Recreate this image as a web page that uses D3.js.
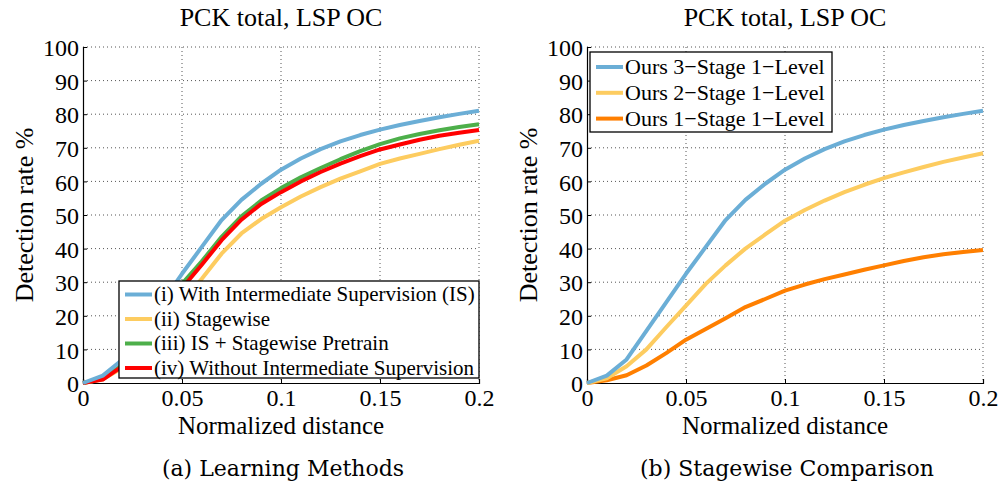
<!DOCTYPE html>
<html>
<head>
<meta charset="utf-8">
<script src="https://cdn.jsdelivr.net/npm/d3@7"></script>
<style>
  body { margin: 0; background: #fff; }
  svg text { font-family: "Liberation Serif", "Times New Roman", serif; fill: #000; }
</style>
</head>
<body>
<div id="chart"></div>
<script>
// x positions: normalized distance 0 .. 0.2 in steps of 0.01
var distances = d3.range(21).map(function(i) { return i / 100; });

// (a) Learning Methods
var withIS = [0, 2.2, 7, 15.5, 24, 32.5, 40.5, 48.5, 54.5, 59.3, 63.5, 66.8, 69.6, 71.9, 73.8, 75.4, 76.8, 78, 79.1, 80.1, 81.0];
var stagewise = [0, 1.1, 4.5, 10, 16.5, 24, 31, 38.5, 44.5, 48.8, 52.3, 55.5, 58.3, 60.8, 63, 65.2, 66.8, 68.2, 69.6, 70.9, 72.1];
var isPretrain = [0, 1.2, 5.5, 12, 19.5, 29.5, 36.2, 43.5, 49.6, 54.3, 58, 61.2, 64, 66.6, 69, 71.1, 72.8, 74.1, 75.2, 76.2, 77.0];
var withoutIS = [0, 1, 5, 11.5, 19, 28.2, 35.2, 42.5, 48.6, 53.3, 56.8, 60, 62.8, 65.3, 67.5, 69.5, 71, 72.4, 73.6, 74.5, 75.3];

// (b) Stagewise Comparison
var ours3 = withIS;
var ours2 = [0, 1.4, 5, 10, 16.6, 23, 29.5, 35, 40, 44.2, 48.3, 51.5, 54.3, 56.8, 59, 61, 62.7, 64.3, 65.8, 67.1, 68.4];
var ours1 = [0, 0.8, 2.3, 5.2, 8.9, 12.9, 16.1, 19.3, 22.6, 25, 27.5, 29.3, 30.9, 32.3, 33.7, 35, 36.3, 37.4, 38.3, 39, 39.6];

var xTicks = [0, 0.05, 0.1, 0.15, 0.2];
var xTickLabels = ["0", "0.05", "0.1", "0.15", "0.2"];
var yTicks = [0, 10, 20, 30, 40, 50, 60, 70, 80, 90, 100];

var panels = [
  {
    left: 83, caption: "(a) Learning Methods",
    legend: { x: 119, y: 281, w: 360, h: 97, row: 24.5, first: 13.5, font: 21 },
    series: [
      { name: "(i) With Intermediate Supervision (IS)", values: withIS, color: "#6baed6" },
      { name: "(ii) Stagewise", values: stagewise, color: "#fdcc60" },
      { name: "(iii) IS + Stagewise Pretrain", values: isPretrain, color: "#4daf4a" },
      { name: "(iv) Without Intermediate Supervision", values: withoutIS, color: "#ff0000" }
    ],
    drawOrder: [1, 2, 3, 0]
  },
  {
    left: 587, caption: "(b) Stagewise Comparison",
    legend: { x: 590, y: 52, w: 242, h: 80, row: 25.8, first: 15, font: 22 },
    series: [
      { name: "Ours 3\u2212Stage 1\u2212Level", values: ours3, color: "#6baed6" },
      { name: "Ours 2\u2212Stage 1\u2212Level", values: ours2, color: "#fdcc60" },
      { name: "Ours 1\u2212Stage 1\u2212Level", values: ours1, color: "#ff7f00" }
    ],
    drawOrder: [2, 1, 0]
  }
];

var svg = d3.select("#chart").append("svg")
  .attr("width", 1003)
  .attr("height", 487);

var plotW = 396, plotTop = 47, plotH = 336;

panels.forEach(function(p) {
  var g = svg.append("g").attr("transform", `translate(${p.left}, ${plotTop})`);

  var x = d3.scaleLinear().domain([0, 0.2]).range([0, plotW]);
  var y = d3.scaleLinear().domain([0, 100]).range([plotH, 0]);

  // dotted grid
  g.append("g").selectAll("line")
    .data(xTicks.slice(1, -1))
    .enter().append("line")
    .attr("x1", d => x(d)).attr("x2", d => x(d))
    .attr("y1", 0).attr("y2", plotH)
    .attr("stroke", "#555").attr("stroke-width", 1)
    .attr("stroke-dasharray", "1,3");
  g.append("g").selectAll("line")
    .data(yTicks.slice(1, -1))
    .enter().append("line")
    .attr("x1", 0).attr("x2", plotW)
    .attr("y1", d => y(d)).attr("y2", d => y(d))
    .attr("stroke", "#555").attr("stroke-width", 1)
    .attr("stroke-dasharray", "1,3");
  // top and right dotted frame
  g.append("line").attr("x1", 0).attr("x2", plotW).attr("y1", 0).attr("y2", 0)
    .attr("stroke", "#555").attr("stroke-dasharray", "1,3");
  g.append("line").attr("x1", plotW).attr("x2", plotW).attr("y1", 0).attr("y2", plotH)
    .attr("stroke", "#555").attr("stroke-dasharray", "1,3");

  // axes
  var xAxis = d3.axisBottom(x).tickValues(xTicks)
    .tickFormat((d, i) => xTickLabels[i]).tickSize(-4).tickPadding(6);
  var yAxis = d3.axisLeft(y).tickValues(yTicks).tickSize(-4).tickPadding(4);

  var gx = g.append("g").attr("transform", `translate(0, ${plotH})`).call(xAxis);
  var gy = g.append("g").call(yAxis);
  [gx, gy].forEach(function(a) {
    a.select(".domain").attr("stroke", "#000").attr("stroke-width", 1.2);
    a.selectAll(".tick line").attr("stroke", "#000");
    a.selectAll("text")
      .style("font-family", "'Liberation Serif', serif")
      .style("font-size", "24px")
      .attr("fill", "#000");
  });
  gx.selectAll("text").attr("dy", "0.71em");
  gy.selectAll("text").attr("dy", "0.36em");

  // curves
  var line = d3.line()
    .x((d, i) => x(distances[i]))
    .y(d => y(d));
  p.drawOrder.forEach(function(k) {
    var s = p.series[k];
    g.append("path")
      .datum(s.values)
      .attr("fill", "none")
      .attr("stroke", s.color)
      .attr("stroke-width", 4)
      .attr("stroke-linejoin", "round")
      .attr("d", line);
  });

  // title and axis labels
  g.append("text")
    .attr("x", plotW / 2).attr("y", -21)
    .attr("text-anchor", "middle")
    .style("font-size", "26px")
    .text("PCK total, LSP OC");
  g.append("text")
    .attr("x", plotW / 2).attr("y", plotH + 51)
    .attr("text-anchor", "middle")
    .style("font-size", "25px")
    .text("Normalized distance");
  g.append("text")
    .attr("transform", "rotate(-90)")
    .attr("x", -plotH / 2).attr("y", -50)
    .attr("text-anchor", "middle")
    .style("font-size", "26px")
    .text("Detection rate %");

  // caption
  g.append("text")
    .attr("x", plotW / 2 + 2).attr("y", plotH + 93)
    .attr("text-anchor", "middle")
    .style("font-family", "'DejaVu Serif', serif")
    .style("font-size", "22px")
    .text(p.caption);

  // legend
  var L = p.legend;
  var lg = svg.append("g").attr("transform", `translate(${L.x}, ${L.y})`);
  lg.append("rect")
    .attr("width", L.w).attr("height", L.h)
    .attr("fill", "#fff").attr("stroke", "#000").attr("stroke-width", 1.3);
  p.series.forEach(function(s, i) {
    var cy = L.first + i * L.row;
    lg.append("line")
      .attr("x1", 6).attr("x2", 33)
      .attr("y1", cy).attr("y2", cy)
      .attr("stroke", s.color).attr("stroke-width", 4);
    lg.append("text")
      .attr("x", 35).attr("y", cy)
      .attr("dy", "0.33em")
      .style("font-size", L.font + "px")
      .text(s.name);
  });
});
</script>
</body>
</html>
